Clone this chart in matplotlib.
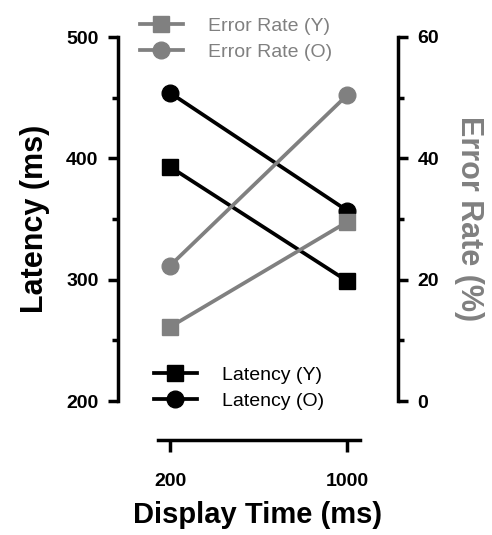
import numpy as np
import matplotlib
matplotlib.use('Agg')
import matplotlib.pyplot as plt

plt.rcParams['font.family'] = ['Liberation Sans', 'DejaVu Sans']

display_time = ['200', '1000']
latency_y = [393, 299]
latency_o = [454, 357]
error_y = [12.2, 29.5]
error_o = [22.3, 50.4]

W, H = 492, 535
fig = plt.figure(figsize=(W / 100, H / 100), dpi=100)
ax = fig.add_axes([118 / W, 1 - 401 / H, 280 / W, 364 / H])
ax2 = ax.twinx()

black = '#000000'
gray = '#808080'
x = np.arange(len(display_time))

l1, = ax.plot(x, latency_y, color=black, lw=2.7, marker='s', ms=12, label='Latency (Y)')
l2, = ax.plot(x, latency_o, color=black, lw=2.7, marker='o', ms=12, label='Latency (O)')
e1, = ax2.plot(x, error_y, color=gray, lw=2.7, marker='s', ms=12, label='Error Rate (Y)')
e2, = ax2.plot(x, error_o, color=gray, lw=2.7, marker='o', ms=12, label='Error Rate (O)')

ax.set_xlim(-0.294, 1.288)
ax.set_ylim(200, 500)
ax2.set_ylim(0, 60)
ax.set_xticks(x)
ax.set_xticklabels(display_time)
ax.set_yticks([200, 300, 400, 500])
ax.set_yticks([250, 350, 450], minor=True)
ax2.set_yticks([0, 20, 40, 60])
ax2.set_yticks([10, 30, 50], minor=True)

for a in (ax, ax2):
    a.spines['top'].set_visible(False)
    for s in a.spines.values():
        s.set_linewidth(2.5)
ax.spines['right'].set_visible(False)
ax2.spines['left'].set_visible(False)
ax2.spines['bottom'].set_visible(False)
ax.spines['bottom'].set_position(('outward', 28))
ax.spines['bottom'].set_bounds(-0.068, 1.073)

ax.tick_params(axis='x', length=8.5, width=2.5, pad=15, labelsize=14)
ax.tick_params(axis='y', which='major', length=7, width=2.5, pad=7, labelsize=14)
ax.tick_params(axis='y', which='minor', length=4, width=2.5)
ax2.tick_params(axis='y', which='major', length=7, width=2.5, pad=7, labelsize=14)
ax2.tick_params(axis='y', which='minor', length=4, width=2.5)
for lab in ax.get_xticklabels() + ax.get_yticklabels() + ax2.get_yticklabels():
    lab.set_fontweight('bold')

ax.set_ylabel('Latency (ms)', fontsize=22, fontweight='bold', labelpad=12)
ax2.set_ylabel('Error Rate (%)', fontsize=22, fontweight='bold', color=gray,
               rotation=-90, labelpad=32)
ax.set_xlabel('Display Time (ms)', fontsize=21, fontweight='bold', labelpad=8)

fig.legend(handles=[e1, e2], loc='center left', bbox_to_anchor=(140 / W, 1 - 39 / H),
           frameon=False, fontsize=14, borderpad=0, borderaxespad=0,
           handlelength=2.2, handletextpad=1.3, labelspacing=0.45, labelcolor=gray)
fig.legend(handles=[l1, l2], loc='center left', bbox_to_anchor=(154 / W, 1 - 388 / H),
           frameon=False, fontsize=14, borderpad=0, borderaxespad=0,
           handlelength=2.2, handletextpad=1.3, labelspacing=0.45)

fig.savefig('out.png', dpi=100)
